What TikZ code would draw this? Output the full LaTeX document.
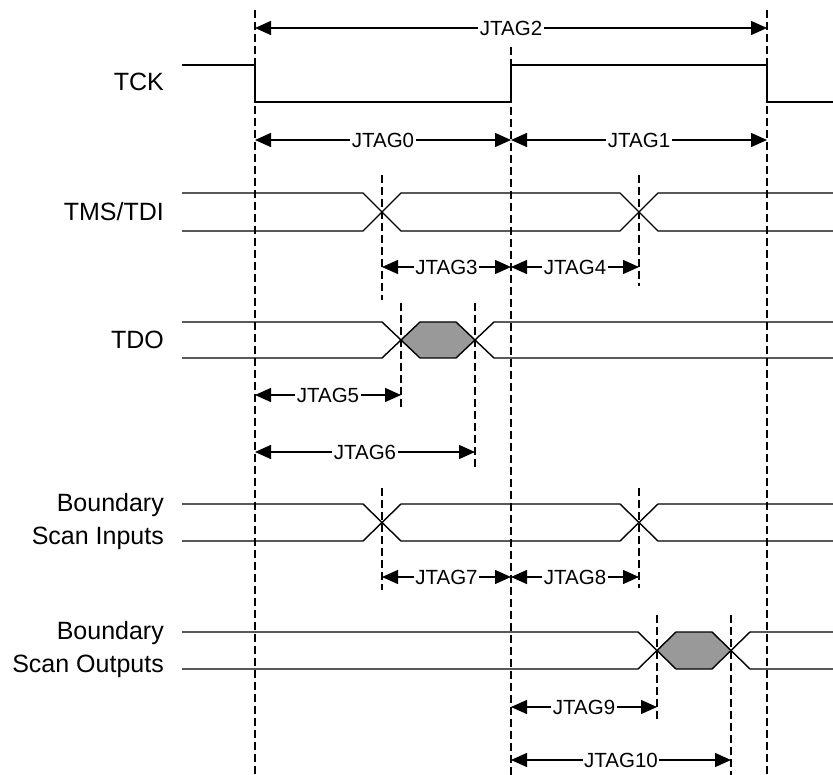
\documentclass[tikz,border=0pt]{standalone}
\usepackage{fontspec}
\setmainfont{Liberation Sans}
\usepackage{xcolor}
\definecolor{waveDark}{HTML}{000000}
\definecolor{waveBus}{HTML}{999999}
\usetikzlibrary{arrows.meta,positioning,calc}
\tikzset{
    signal/.style={
        draw=waveDark,
        line width=1.4pt,
        line join=miter
    },
    busfill/.style={
        fill=waveBus,
        draw=none
    },
    guide/.style={
        draw=waveDark,
        line width=1.4pt,
        dash pattern=on 8pt off 4pt
    },
    dimension/.style={
        <->,
        >={Triangle[length=16pt,width=14pt]},
        line width=1.4pt,
        color=waveDark
    },
    timing/.style={
        font=\fontsize{20.5}{24}\selectfont,
        midway,
        fill=white,
        inner sep=1.5pt
    },
    signame/.style={
        font=\fontsize{25}{33}\selectfont,
        anchor=east,
        align=right,
        inner sep=0pt
    }
}

\begin{document}
\begin{tikzpicture}[x=1pt, y=-1pt]
    \useasboundingbox (0,0) rectangle (833,775);

    % Time marks
    \coordinate (t0) at (255,0);
    \coordinate (t1) at (511,0);
    \coordinate (t2) at (767,0);
    \coordinate (ta) at (382,0);
    \coordinate (tb) at (639,0);
    \coordinate (tc) at (401,0);
    \coordinate (td) at (475,0);
    \coordinate (te) at (657,0);
    \coordinate (tf) at (731,0);

    % Signal names
    \node[signame] (tck) at (164,82) {TCK};
    \node[signame] (tms) at (164,212) {TMS/TDI};
    \node[signame] (tdo) at (164,340) {TDO};
    \node[signame] (bsin) at (164,522) {Boundary\\Scan Inputs};
    \node[signame] (bsout) at (164,650) {Boundary\\Scan Outputs};

    % Guides
    \draw[guide] (t0 |- 0,10) -- (t0 |- 0,775);
    \draw[guide] (t1 |- 0,47) -- (t1 |- 0,775);
    \draw[guide] (t2 |- 0,10) -- (t2 |- 0,775);
    \draw[guide] (ta |- 0,175) -- (ta |- 0,300);
    \draw[guide] (tb |- 0,175) -- (tb |- 0,286);
    \draw[guide] (tc |- 0,303) -- (tc |- 0,410);
    \draw[guide] (td |- 0,303) -- (td |- 0,468);
    \draw[guide] (ta |- 0,488) -- (ta |- 0,590);
    \draw[guide] (tb |- 0,488) -- (tb |- 0,588);
    \draw[guide] (te |- 0,615) -- (te |- 0,720);
    \draw[guide] (tf |- 0,615) -- (tf |- 0,775);

    % TCK
    \draw[signal] (182,65) -- (255,65) -- (255,102) -- (511,102) -- (511,65)
        -- (767,65) -- (767,102) -- (833,102);

    % TMS/TDI
    \draw[signal] (182,193) -- (363,193) -- (401,231) -- (620,231) -- (658,193) -- (833,193);
    \draw[signal] (182,231) -- (363,231) -- (401,193) -- (620,193) -- (658,231) -- (833,231);

    % TDO
    \fill[busfill] (401,340) -- (420,322) -- (456,322) -- (475,340) -- (456,358) -- (420,358) -- cycle;
    \draw[signal] (182,322) -- (382,322) -- (420,358) -- (456,358) -- (494,322) -- (833,322);
    \draw[signal] (182,358) -- (382,358) -- (420,322) -- (456,322) -- (494,358) -- (833,358);

    % Boundary scan inputs
    \draw[signal] (182,504) -- (363,504) -- (401,541) -- (620,541) -- (658,504) -- (833,504);
    \draw[signal] (182,541) -- (363,541) -- (401,504) -- (620,504) -- (658,541) -- (833,541);

    % Boundary scan outputs
    \fill[busfill] (657,650) -- (676,632) -- (712,632) -- (731,650) -- (712,669) -- (676,669) -- cycle;
    \draw[signal] (182,632) -- (638,632) -- (676,669) -- (712,669) -- (750,632) -- (833,632);
    \draw[signal] (182,669) -- (638,669) -- (676,632) -- (712,632) -- (750,669) -- (833,669);

    % Timing parameters
    \draw[dimension] (t0 |- 0,28) -- node[timing] {JTAG2} (t2 |- 0,28);
    \draw[dimension] (t0 |- 0,140) -- node[timing] {JTAG0} (t1 |- 0,140);
    \draw[dimension] (t1 |- 0,140) -- node[timing] {JTAG1} (t2 |- 0,140);
    \draw[dimension] (ta |- 0,267) -- node[timing] {JTAG3} (t1 |- 0,267);
    \draw[dimension] (t1 |- 0,267) -- node[timing] {JTAG4} (tb |- 0,267);
    \draw[dimension] (t0 |- 0,395) -- node[timing] {JTAG5} (tc |- 0,395);
    \draw[dimension] (t0 |- 0,452) -- node[timing] {JTAG6} (td |- 0,452);
    \draw[dimension] (ta |- 0,577) -- node[timing] {JTAG7} (t1 |- 0,577);
    \draw[dimension] (t1 |- 0,577) -- node[timing] {JTAG8} (tb |- 0,577);
    \draw[dimension] (t1 |- 0,707) -- node[timing] {JTAG9} (te |- 0,707);
    \draw[dimension] (t1 |- 0,760) -- node[timing] {JTAG10} (tf |- 0,760);
\end{tikzpicture}
\end{document}
